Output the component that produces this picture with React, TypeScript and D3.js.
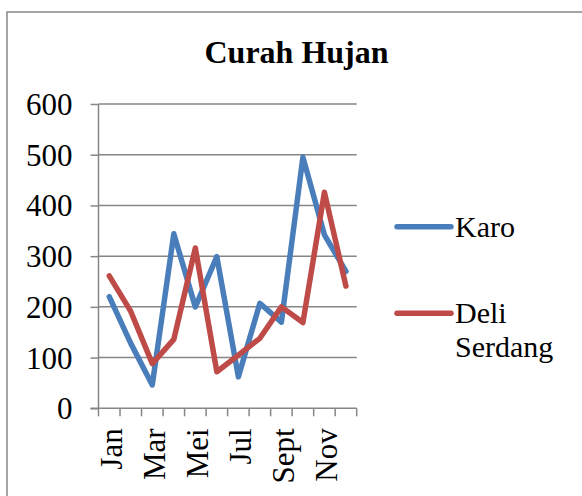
import React, { useRef, useEffect } from "react";
import * as d3 from "d3";

const months = ["Jan", "Feb", "Mar", "Apr", "Mei", "Jun", "Jul", "Agt", "Sept", "Okt", "Nov", "Des"];
const karo = [220, 128, 46, 344, 200, 299, 62, 207, 170, 495, 342, 270];
const deliSerdang = [261, 191, 88, 136, 316, 72, 105, 138, 200, 169, 426, 241];
const yTicks = [0, 100, 200, 300, 400, 500, 600];
const seriesNames = ["Karo", "Deli Serdang"];

const W = 582;
const H = 496;
const FONT = "'Liberation Serif', 'Times New Roman', serif";

const App = () => {
  const ref = useRef<SVGSVGElement>(null);

  useEffect(() => {
    const svg = d3.select(ref.current);
    svg.selectAll("*").remove();

    // outer chart border (right and bottom fall outside the picture)
    svg.append("rect")
      .attr("x", 7).attr("y", 12)
      .attr("width", 620).attr("height", 520)
      .attr("fill", "#fff")
      .attr("stroke", "#868686")
      .attr("stroke-width", 1.5);

    svg.append("text")
      .attr("x", 296.5).attr("y", 63)
      .attr("text-anchor", "middle")
      .attr("font-family", FONT)
      .attr("font-weight", "bold")
      .attr("font-size", 32)
      .text("Curah Hujan");

    const left = 98.5, right = 356.7, top = 104, bottom = 408.3;

    const x = d3.scaleBand<string>().domain(months).range([left, right]).padding(0);
    const y = d3.scaleLinear().domain([0, 600]).range([bottom, top]);

    // gridlines
    svg.append("g")
      .selectAll("line")
      .data(yTicks.filter(d => d > 0))
      .join("line")
      .attr("x1", left).attr("x2", right)
      .attr("y1", d => y(d)).attr("y2", d => y(d))
      .attr("stroke", "#868686")
      .attr("stroke-width", 1.5);

    // y axis
    const yAxis = svg.append("g")
      .attr("transform", `translate(${left},0)`)
      .call(d3.axisLeft(y).tickValues(yTicks).tickSize(8).tickPadding(18).tickFormat(d3.format("d")));
    yAxis.selectAll("line, path").attr("stroke", "#868686").attr("stroke-width", 1.5);
    yAxis.select(".domain").attr("d", `M0,${top}V${bottom}`);
    yAxis.selectAll("text")
      .attr("font-family", FONT)
      .attr("font-size", 31)
      .attr("fill", "#000")
      .attr("dy", "0.34em");

    // x axis with ticks at band edges
    const xg = svg.append("g");
    xg.append("line")
      .attr("x1", left - 8).attr("x2", right)
      .attr("y1", bottom).attr("y2", bottom)
      .attr("stroke", "#868686").attr("stroke-width", 1.5);
    xg.selectAll("line.tick")
      .data(d3.range(months.length + 1))
      .join("line")
      .attr("class", "tick")
      .attr("x1", i => left + i * x.step()).attr("x2", i => left + i * x.step())
      .attr("y1", bottom).attr("y2", bottom + 8)
      .attr("stroke", "#868686").attr("stroke-width", 1.5);
    xg.selectAll("text")
      .data(months.filter((_, i) => i % 2 === 0))
      .join("text")
      .attr("transform", d => `translate(${x(d)! + x.bandwidth() / 2},${bottom + 20}) rotate(-90)`)
      .attr("dy", "0.42em")
      .attr("text-anchor", "end")
      .attr("font-family", FONT)
      .attr("font-size", 31)
      .text(d => d);

    const colors = ["#4A7EBB", "#BE4B48"];
    const series = [karo, deliSerdang];
    const line = d3.line<number>()
      .x((_, i) => x(months[i])! + x.bandwidth() / 2)
      .y(d => y(d));

    series.forEach((s, k) => {
      svg.append("path")
        .datum(s)
        .attr("d", line)
        .attr("fill", "none")
        .attr("stroke", colors[k])
        .attr("stroke-width", 5.5)
        .attr("stroke-linejoin", "round")
        .attr("stroke-linecap", "round");
    });

    // legend
    const legendY = [226.7, 313.3];
    seriesNames.forEach((name, k) => {
      svg.append("line")
        .attr("x1", 397).attr("x2", 451)
        .attr("y1", legendY[k]).attr("y2", legendY[k])
        .attr("stroke", colors[k])
        .attr("stroke-width", 5.5)
        .attr("stroke-linecap", "round");
      const words = name.split(" ");
      const t = svg.append("text")
        .attr("font-family", FONT)
        .attr("font-size", 30)
        .attr("x", 455)
        .attr("y", legendY[k] + 10);
      words.forEach((w, j) => {
        t.append("tspan").attr("x", 455).attr("dy", j === 0 ? 0 : 33.7).text(w);
      });
    });
  }, []);

  return (
    <div style={{ position: "absolute", left: 0, top: 0 }}>
      <svg ref={ref} width={W} height={H} style={{ display: "block" }} />
    </div>
  );
};

export default App;
